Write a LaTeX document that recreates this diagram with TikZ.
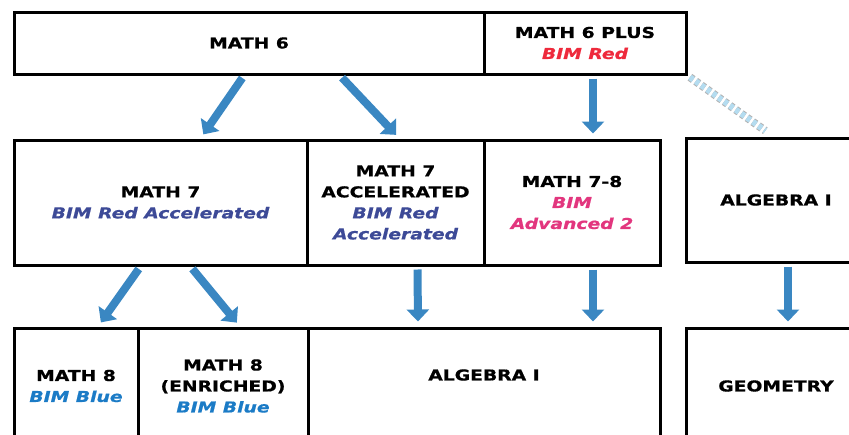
\documentclass[tikz,border=0pt]{standalone}
\usepackage{fontspec}
\setmainfont[FakeStretch=1.25,FakeBold=0.8]{DejaVu Sans}
\usepackage{xcolor}
\usetikzlibrary{arrows.meta,positioning}
\definecolor{FlowBlue}{HTML}{3A87C2}
\definecolor{GhostBlue}{HTML}{B4DCF0}
\definecolor{BimRed}{HTML}{EE2A3C}
\definecolor{BimNavy}{HTML}{3D4A97}
\definecolor{BimPink}{HTML}{E2367E}
\definecolor{BimBlue}{HTML}{1B7BC6}
\newcommand\bim[2]{\textcolor{#1}{\itshape #2}}
\tikzset{every node/.style={font=\fontsize{15}{21}\selectfont\bfseries},
 box/.style={draw=black,line width=3pt,inner sep=0pt,align=center},
 flow/.style={FlowBlue,line width=8pt,shorten <=3pt,shorten >=5pt,
  -{Triangle[width=22pt,length=12pt]}},
 ghost/.style={draw=gray!60,line width=1pt,dash pattern=on 4pt off 3pt,
  double=GhostBlue,double distance=6pt,shorten <=3pt,shorten >=10pt}}
\begin{document}
\begin{tikzpicture}[x=1pt,y=-1pt]
\path[use as bounding box,clip] (0,0) rectangle (849,434);
% sixth grade
\node[box,minimum width=470pt,minimum height=62pt] (math6) at (249,43) {MATH 6};
\node[box,minimum width=202pt,minimum height=62pt] (plus6) at (585,43) {MATH 6 PLUS\\\bim{BimRed}{BIM Red}};
% seventh grade
\node[box,minimum width=293pt,minimum height=125pt] (math7) at (160.5,202.5) {MATH 7\\\bim{BimNavy}{BIM Red Accelerated}};
\node[box,minimum width=177pt,minimum height=125pt] (acc7) at (395.5,202.5) {MATH 7\\ACCELERATED\\\bim{BimNavy}{BIM Red}\\\bim{BimNavy}{Accelerated}};
\node[box,minimum width=176pt,minimum height=125pt] (math78) at (572,202.5) {MATH 7-8\\\bim{BimPink}{BIM}\\\bim{BimPink}{Advanced 2}};
\node[box,minimum width=180pt,minimum height=124pt] (alg7) at (776,200) {ALGEBRA I};
% eighth grade
\node[box,minimum width=124pt,minimum height=116pt] (math8) at (76,386) {MATH 8\\\bim{BimBlue}{BIM Blue}};
\node[box,minimum width=170pt,minimum height=116pt] (enr8) at (223,386) {MATH 8\\(ENRICHED)\\\bim{BimBlue}{BIM Blue}};
\node[box,minimum width=352pt,minimum height=116pt] (alg8) at (484,386) {};
\node (alg8txt) at ([yshift=11pt]alg8.center) {ALGEBRA I};
\node[box,minimum width=180pt,minimum height=116pt] (geom) at (776,386) {GEOMETRY};
% pathways
\foreach \src/\ds/\dst/\dd in {math6/-5/math7/40,math6/91/acc7/4,plus6/8/math78/21,
 math7/-20/math8/22,math7/30/enr8/17,acc7/22/alg8/-66,math78/21/alg8/109,alg7/12/geom/12}
 \draw[flow] ([xshift=\ds pt]\src.south) -- ([xshift=\dd pt]\dst.north);
\draw[ghost] (plus6.south east) -- ([xshift=89pt]alg7.north west);
\end{tikzpicture}
\end{document}
